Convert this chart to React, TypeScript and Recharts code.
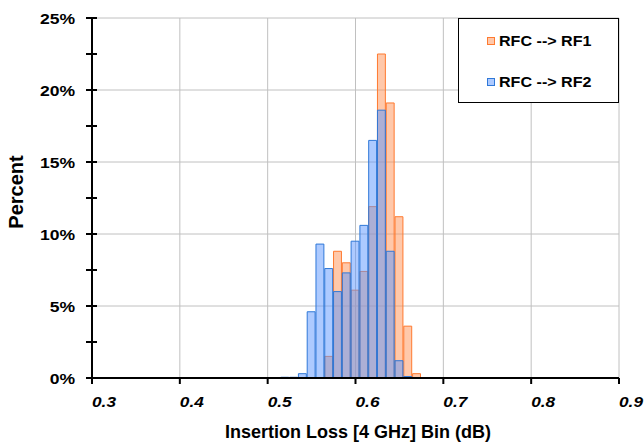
import { BarChart, Bar, XAxis, YAxis, CartesianGrid, Legend } from "recharts";

// histogram bins (bin centres, dB) and percent per bin
const bins = [0.52, 0.53, 0.54, 0.55, 0.56, 0.57, 0.58, 0.59, 0.6, 0.61, 0.62, 0.63, 0.64, 0.65, 0.66, 0.67];
const rf1 = [0, 0, 0, 0, 0, 1.5, 8.8, 8.0, 6.1, 7.4, 11.9, 22.5, 19.1, 11.2, 3.6, 0.3];
const rf2 = [0.05, 0.05, 0.3, 4.6, 9.3, 7.6, 6.0, 7.3, 9.5, 10.6, 16.5, 18.6, 8.8, 1.2, 0.1, 0];

const xTicks = [0.3, 0.4, 0.5, 0.6, 0.7, 0.8, 0.9];
const yTicks = [0, 2.5, 5, 7.5, 10, 12.5, 15, 17.5, 20, 22.5, 25];
const yGrid = [5, 10, 15, 20, 25];
const xGrid = [0.4, 0.5, 0.6, 0.7, 0.8, 0.9];

const seriesNames = ["RFC --> RF1", "RFC --> RF2"];

const data = bins.map((b, i) => ({ bin: b, rf1: rf1[i], rf2: rf2[i] }));

const FONT = "'Liberation Sans', Arial, sans-serif";
const ORANGE = { fill: "#FF9155", stroke: "#FF7A30" };
const BLUE = { fill: "#5B95FF", stroke: "#2F78D8" };

const W = 644;
const H = 446;
const PLOT_L = 92;
const PLOT_R = 619;
const binWidth = (PLOT_R - PLOT_L) / 60;

function YTick({ x, y, payload }: any) {
  const major = payload.value % 5 === 0;
  return (
    <g>
      <line x1={x - 6} x2={x + 5} y1={y} y2={y} stroke="#000" strokeWidth={2} />
      {major && (
        <text
          transform={`translate(${x - 17},${y + 5.5}) scale(1.17,1)`}
          textAnchor="end"
          fontFamily={FONT}
          fontWeight="bold"
          fontSize={15}
          fill="#000"
        >
          {payload.value}%
        </text>
      )}
    </g>
  );
}

function XTick({ x, y, payload }: any) {
  return (
    <g>
      <line x1={x} x2={x} y1={y - (payload.value === 0.3 ? 5 : 0)} y2={y + 6} stroke="#000" strokeWidth={2} />
      <text
        transform={`translate(${x},${y + 29}) scale(1.15,1)`}
        textAnchor="start"
        fontFamily={FONT}
        fontWeight="bold"
        fontStyle="italic"
        fontSize={15}
        fill="#000"
      >
        {payload.value.toFixed(1)}
      </text>
    </g>
  );
}

function LegendBox() {
  const colors = [ORANGE, BLUE];
  return (
    <div
      style={{
        width: 161,
        height: 85,
        boxSizing: "border-box",
        border: "1px solid #000",
        background: "#fff",
        position: "relative",
      }}
    >
      <svg width={161} height={85} style={{ position: "absolute", left: -1, top: -1 }}>
        {seriesNames.map((name, i) => (
          <g key={name}>
            <rect
              x={29.5}
              y={19.5 + i * 41}
              width={7}
              height={7}
              fill={colors[i].fill}
              fillOpacity={0.5}
              stroke={colors[i].stroke}
            />
            <text
              transform={`translate(41,${28 + i * 41}) scale(1.15,1)`}
              fontFamily={FONT}
              fontWeight="bold"
              fontSize={14}
              fill="#000"
            >
              {name}
            </text>
          </g>
        ))}
      </svg>
    </div>
  );
}

export default function App() {
  return (
    <div style={{ position: "absolute", left: 0, top: 0, width: W, height: H, background: "#fff" }}>
      <BarChart
        width={W}
        height={H}
        data={data}
        margin={{ top: 18, right: W - PLOT_R, left: 0, bottom: 0 }}
        barGap={0}
        barCategoryGap={0}
      >
        <CartesianGrid
          horizontalValues={yGrid}
          verticalValues={xGrid}
          stroke="#c0c0c0"
          strokeWidth={1}
        />
        <XAxis
          dataKey="bin"
          type="number"
          domain={[0.3, 0.9]}
          ticks={xTicks}
          interval={0}
          allowDataOverflow
          height={68}
          tickSize={0}
          tickMargin={0}
          tickLine={false}
          tick={<XTick />}
          axisLine={{ stroke: "#000", strokeWidth: 2 }}
          label={{
            content: () => (
              <text
                x={358}
                y={438}
                textAnchor="middle"
                fontFamily={FONT}
                fontWeight="bold"
                fontSize={18}
                fill="#000"
              >
                Insertion Loss [4 GHz] Bin (dB)
              </text>
            ),
          }}
        />
        <XAxis xAxisId="b" dataKey="bin" type="number" domain={[0.3, 0.9]} hide allowDataOverflow />
        <YAxis
          type="number"
          domain={[0, 25]}
          ticks={yTicks}
          interval={0}
          width={PLOT_L}
          tickSize={0}
          tickMargin={0}
          tickLine={false}
          tick={<YTick />}
          axisLine={{ stroke: "#000", strokeWidth: 2 }}
          label={{
            content: () => (
              <text
                transform="translate(23,192) rotate(-90)"
                textAnchor="middle"
                fontFamily={FONT}
                fontWeight="bold"
                fontSize={20}
                fill="#000"
              >
                Percent
              </text>
            ),
          }}
        />
        <Legend
          layout="vertical"
          align="center"
          verticalAlign="middle"
          wrapperStyle={{ left: 458, top: 18, width: 161, height: 85 }}
          content={() => <LegendBox />}
        />
        <Bar
          dataKey="rf1"
          name={seriesNames[0]}
          barSize={binWidth}
          fill={ORANGE.fill}
          fillOpacity={0.5}
          stroke={ORANGE.stroke}
          strokeWidth={1}
          isAnimationActive={false}
        />
        <Bar
          dataKey="rf2"
          xAxisId="b"
          name={seriesNames[1]}
          barSize={binWidth}
          fill={BLUE.fill}
          fillOpacity={0.5}
          stroke={BLUE.stroke}
          strokeWidth={1}
          isAnimationActive={false}
        />
      </BarChart>
    </div>
  );
}
